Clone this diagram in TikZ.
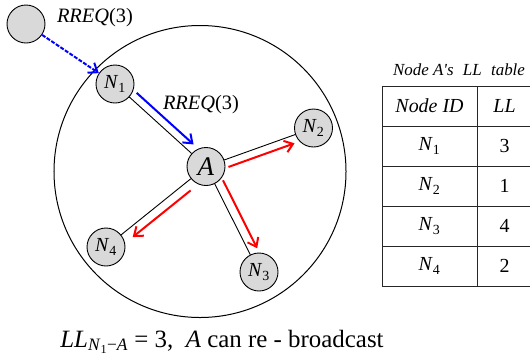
\documentclass[tikz,border=0pt]{standalone}
\usepackage{fontspec}
\setmainfont{Liberation Serif}
\usetikzlibrary{calc,arrows.meta}
\definecolor{nodegray}{HTML}{D9D9D9}
\newcommand\Nsub[1]{\textit{N}\textsubscript{#1}}
\begin{document}
\begin{tikzpicture}[x=1bp,y=-1bp,
  mnode/.style={circle,draw=black,line width=0.9bp,fill=nodegray,minimum size=38bp,inner sep=0pt,font=\fontsize{20}{20}\selectfont},
  link/.style={line width=0.9bp,black},
  tip/.style={-{Straight Barb[length=8bp,width=12bp]}},
  redarr/.style={tip,red,line width=2bp},
  bluearr/.style={tip,blue,line width=2bp},
  bluedash/.style={tip,blue,line width=2bp,dash pattern=on 4bp off 1.5bp},
  lbl/.style={font=\fontsize{20.5}{20.5}\selectfont,inner sep=0pt},
  cell/.style={font=\fontsize{20}{20}\selectfont,inner sep=0pt},
  grid/.style={line width=0.8bp,black!85}]
\useasboundingbox (0,0) rectangle (530,359);
% range circle
\node[circle,draw,line width=1bp,minimum size=292bp,inner sep=0pt] (range) at (200,171.5) {};
% nodes
\node[mnode] (src) at (26,24) {};
\node[mnode] (N1) at (115,84) {\Nsub{1}};
\node[mnode,font=\fontsize{27}{27}\selectfont] (A) at (206,166.5) {\textit{A}};
\node[mnode] (N2) at (313.5,128) {\Nsub{2}};
\node[mnode] (N3) at (259,272) {\Nsub{3}};
\node[mnode] (N4) at (106,247) {\Nsub{4}};
% links
\draw[link] (N1) -- (A);
\draw[link] (A) -- (N2);
\draw[link] (A) -- (N3);
\draw[link] (A) -- (N4);
% arrows
\draw[bluedash] (src) -- (N1);
\draw[bluearr] ($(N1)!22bp!(A)!8bp!90:(A)$) -- ($(A)!24bp!(N1)!8bp!-90:(N1)$);
\draw[redarr] ($(A)!21bp!(N2)!8bp!-90:(N2)$) -- ($(N2)!23bp!(A)!8bp!90:(A)$);
\draw[redarr] ($(A)!20bp!(N3)!9bp!90:(N3)$) -- ($(N3)!22bp!(A)!9bp!-90:(A)$);
\draw[redarr] ($(A)!27bp!(N4)!9bp!90:(N4)$) -- ($(N4)!27bp!(A)!9bp!-90:(A)$);
% labels
\node[lbl] (r1) at (95,17.5) {\textit{RREQ}(3)};
\node[lbl] (r2) at (201,105) {\textit{RREQ}(3)};
% table
\node[font=\fontsize{17}{17}\selectfont\itshape,inner sep=0pt] (title) at (459,70) {Node A\textquotesingle s\hspace{0.3em} LL\hspace{0.3em} table};
\draw[grid] (382,86) rectangle (533,286);
\draw[grid] (477,86) -- (477,286);
\foreach \yy in {126,166,206,246} \draw[grid] (382,\yy) -- (533,\yy);
\node[cell] (h1) at (429.5,106) {\textit{Node ID}};
\node[cell] (h2) at (504.5,106) {\textit{LL}};
\node[cell] (c11) at (429.5,146) {\Nsub{1}};
\node[cell] (c12) at (504.5,146) {3};
\node[cell] (c21) at (429.5,186) {\Nsub{2}};
\node[cell] (c22) at (504.5,186) {1};
\node[cell] (c31) at (429.5,226) {\Nsub{3}};
\node[cell] (c32) at (504.5,226) {4};
\node[cell] (c41) at (429.5,266) {\Nsub{4}};
\node[cell] (c42) at (504.5,266) {2};
% bottom text
\node[anchor=base,font=\fontsize{25}{25}\selectfont,inner sep=0pt] (bottom) at (222,347)
  {\textit{LL}\textsubscript{\textit{N}\textsubscript{1}\textminus\textit{A}} = 3,\ \ \textit{A} can re - broadcast};
\end{tikzpicture}
\end{document}
